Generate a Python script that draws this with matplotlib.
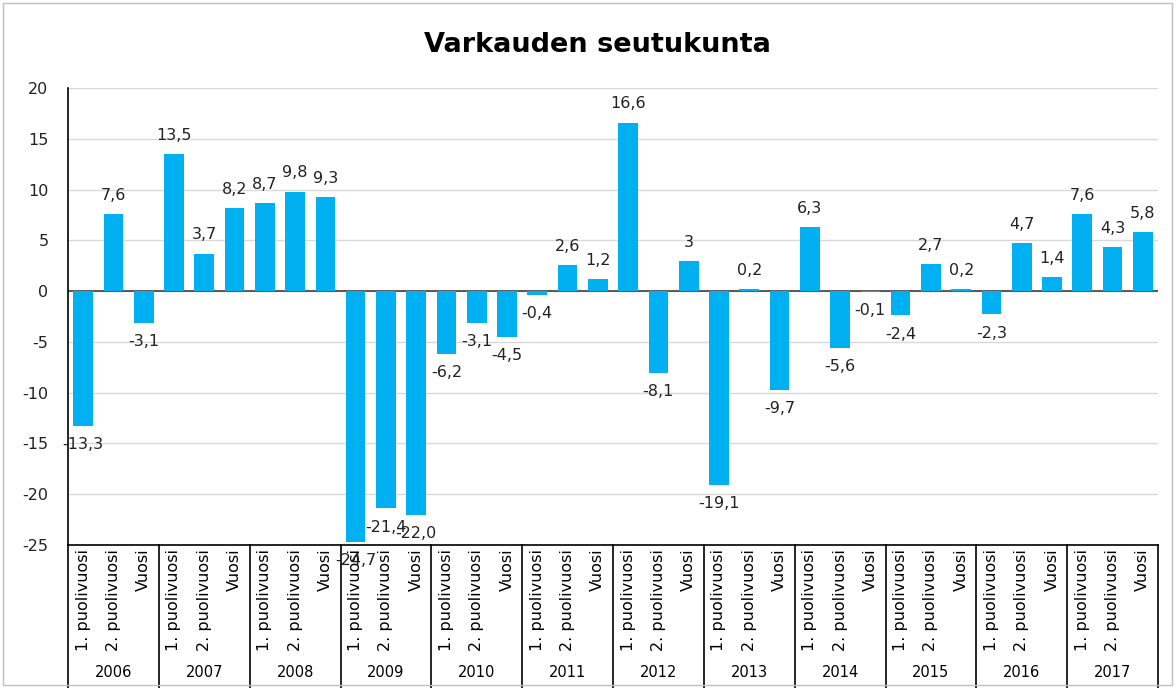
"""Varkauden seutukunta bar chart."""

import matplotlib
matplotlib.use('Agg')
import matplotlib.pyplot as plt
from matplotlib.patches import Rectangle

# data
years = ['2006', '2007', '2008', '2009', '2010', '2011',
         '2012', '2013', '2014', '2015', '2016', '2017']
periods = ['1. puolivuosi', '2. puolivuosi', 'Vuosi']
values = [
    -13.3, 7.6, -3.1,
    13.5, 3.7, 8.2,
    8.7, 9.8, 9.3,
    -24.7, -21.4, -22.0,
    -6.2, -3.1, -4.5,
    -0.4, 2.6, 1.2,
    16.6, -8.1, 3,
    -19.1, 0.2, -9.7,
    6.3, -5.6, -0.1,
    -2.4, 2.7, 0.2,
    -2.3, 4.7, 1.4,
    7.6, 4.3, 5.8,
]
value_labels = [
    '-13,3', '7,6', '-3,1', '13,5', '3,7', '8,2', '8,7', '9,8', '9,3',
    '-24,7', '-21,4', '-22,0', '-6,2', '-3,1', '-4,5', '-0,4', '2,6', '1,2',
    '16,6', '-8,1', '3', '-19,1', '0,2', '-9,7', '6,3', '-5,6', '-0,1',
    '-2,4', '2,7', '0,2', '-2,3', '4,7', '1,4', '7,6', '4,3', '5,8',
]
yticks = [-25, -20, -15, -10, -5, 0, 5, 10, 15, 20]

plt.rcParams['font.family'] = ['DejaVu Sans']
plt.rcParams['axes.unicode_minus'] = False

fig = plt.figure(figsize=(11.76, 6.88), dpi=100)
ax = fig.add_axes([68 / 1176, 1 - 545 / 688, 1090 / 1176, 457 / 688])

n = len(values)
x = list(range(n))
ax.bar(x, values, width=0.65, color='#00B0F0', zorder=3)

for xi, v, lab in zip(x, values, value_labels):
    if v >= 0:
        ax.annotate(lab, (xi, v), xytext=(0, 8), textcoords='offset points',
                    ha='center', va='bottom', fontsize=11.5, color='#222222', zorder=4)
    else:
        ax.annotate(lab, (xi, v), xytext=(0, -8), textcoords='offset points',
                    ha='center', va='top', fontsize=11.5, color='#222222', zorder=4)

ax.set_xlim(-0.5, n - 0.5)
ax.set_ylim(-25, 20)
ax.set_yticks(yticks)
ax.set_yticklabels([str(t) for t in yticks])
ax.tick_params(axis='y', length=0, labelsize=11.5, pad=14, labelcolor='#222222')
ax.set_xticks([])
ax.grid(axis='y', color='#d9d9d9', linewidth=1, zorder=0)
ax.axhline(0, color='#404040', linewidth=1.2, zorder=2)
for s in ['top', 'right']:
    ax.spines[s].set_visible(False)
ax.spines['left'].set_color('black')
ax.spines['left'].set_linewidth(1.2)
ax.spines['bottom'].set_color('black')
ax.spines['bottom'].set_linewidth(1.2)

# two-level category axis
trans = ax.get_xaxis_transform()
for i, p in enumerate(periods * len(years)):
    ax.text(i, -0.008, p, transform=trans, rotation=90, ha='center', va='top',
            fontsize=11.5, color='black')
for j, yr in enumerate(years):
    ax.text(3 * j + 1, -0.278, yr, transform=trans, ha='center', va='center',
            fontsize=10.5, color='black')
for k in range(len(years) + 1):
    ax.plot([3 * k - 0.5, 3 * k - 0.5], [0, -0.32], transform=trans,
            color='black', linewidth=1.2, clip_on=False)

fig.text(597 / 1176, 1 - 45 / 688, 'Varkauden seutukunta', ha='center', va='center',
         fontsize=19.5, fontweight='bold')

fig.patches.append(Rectangle((3 / 1176, 3 / 688), 1169 / 1176, 682 / 688,
                             transform=fig.transFigure, fill=False,
                             edgecolor='#bfbfbf', linewidth=1))

fig.savefig('out.png', dpi=100)
